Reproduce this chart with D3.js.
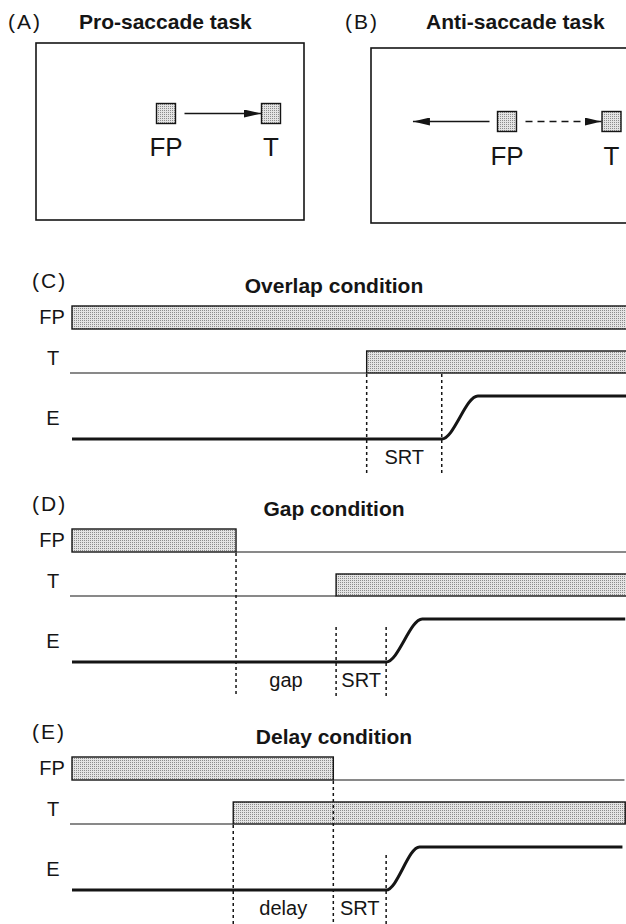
<!DOCTYPE html>
<html><head><meta charset="utf-8">
<script src="https://cdn.jsdelivr.net/npm/d3@7"></script>
<style>body{margin:0;background:#fff}svg{display:block}</style>
</head><body>
<svg id="chart" width="626" height="924"></svg>
<script>
// ---------- data ----------
// Panels A/B: spatial positions (deg, relative to fixation point)
const taskTitles = ["Pro-saccade task", "Anti-saccade task"];
const taskLetters = ["(A)", "(B)"];
const stimulusNames = ["FP", "T"];
const stimulusPositions = [0, 10];      // FP at 0, target at +10
const proSaccadeEnd = 10;               // eye goes to target
const antiSaccadeEnd = -9;              // eye goes to mirror position

// Panels C-E: timing (ms, arbitrary schematic units)
const conditions = ["Overlap condition", "Gap condition", "Delay condition"];
const conditionLetters = ["(C)", "(D)", "(E)"];
const rowNames = ["FP", "T", "E"];
const fpOffset = [null, 295, 470];       // null = FP stays on
const targetOnset = [530, 475, 290];
const targetOffset = [null, null, 995];  // null = stays on
const saccadeStart = [665, 565, 565];
const saccadeEnd = [730, 630, 625];
const traceEnd = [1030, 995, 990];
// vertical dashed markers: which event, and from which row they start
const markerEvents = [["tOn", "sac"], ["fpOff", "tOn", "sac"], ["tOn", "fpOff", "sac"]];
const markerFrom = [["T", "T"], ["FP", "E", "E"], ["T", "FP", "E"]];
// labelled intervals between events
const intervals = [
  [{label: "SRT", from: "tOn", to: "sac"}],
  [{label: "gap", from: "fpOff", to: "tOn"}, {label: "SRT", from: "tOn", to: "sac"}],
  [{label: "delay", from: "tOn", to: "fpOff"}, {label: "SRT", from: "fpOff", to: "sac"}]
];

// ---------- setup ----------
const svg = d3.select("#chart");
const FONT = "'Liberation Sans', Arial, Helvetica, sans-serif";
const INK = "#151515";
const defs = svg.append("defs");
const pat = defs.append("pattern").attr("id", "stip")
  .attr("width", 2).attr("height", 2).attr("patternUnits", "userSpaceOnUse");
pat.append("rect").attr("width", 2).attr("height", 2).attr("fill", "#e4e4e4");
pat.append("rect").attr("width", 1).attr("height", 1).attr("fill", "#8c8c8c");
defs.append("marker").attr("id", "arr")
  .attr("viewBox", "0 0 10 10").attr("refX", 10).attr("refY", 5)
  .attr("markerUnits", "userSpaceOnUse").attr("markerWidth", 17).attr("markerHeight", 8)
  .attr("preserveAspectRatio", "none").attr("orient", "auto")
  .append("path").attr("d", "M0,0 L10,5 L0,10 Z").attr("fill", INK);

function text(x, y, s, size, opts = {}) {
  return svg.append("text").attr("x", x).attr("y", y).text(s)
    .attr("font-family", FONT).attr("font-size", size)
    .attr("font-weight", opts.bold ? "bold" : "normal")
    .attr("text-anchor", opts.anchor || "start")
    .attr("letter-spacing", opts.ls || 0)
    .attr("fill", INK);
}

// ---------- panels A and B ----------
const taskLayout = [
  {letterX: 8, titleX: 79, base: 29, box: [36, 43, 268, 177], cx: [166, 271], cy: 113.5, labelY: 156},
  {letterX: 345, titleX: 426, base: 29, box: [371, 48, 270, 175], cx: [507, 611.5], cy: 121.5, labelY: 165}
];
taskTitles.forEach((title, i) => {
  const L = taskLayout[i];
  text(L.letterX, L.base, taskLetters[i], 21, {ls: 2});
  text(L.titleX, L.base, title, 21, {bold: true});
  svg.append("rect").attr("x", L.box[0]).attr("y", L.box[1])
    .attr("width", L.box[2]).attr("height", L.box[3])
    .attr("fill", "none").attr("stroke", INK).attr("stroke-width", 1.6);
  const sx = d3.scaleLinear().domain([0, 10]).range(L.cx);
  const sq = 19;
  stimulusPositions.forEach((p, j) => {
    svg.append("rect").attr("x", sx(p) - sq / 2).attr("y", L.cy - sq / 2 - 0.5)
      .attr("width", sq).attr("height", sq + 1)
      .attr("fill", "url(#stip)").attr("stroke", INK).attr("stroke-width", 1.4);
    text(sx(p), L.labelY, stimulusNames[j], 26, {anchor: "middle"});
  });
  const fpRight = sx(0) + sq / 2 + 9, tLeft = sx(10) - sq / 2 - 0.5;
  if (i === 0) {
    svg.append("line").attr("x1", fpRight).attr("x2", sx(proSaccadeEnd) - sq / 2 - 0.5)
      .attr("y1", L.cy).attr("y2", L.cy).attr("stroke", INK).attr("stroke-width", 1.5)
      .attr("marker-end", "url(#arr)");
  } else {
    svg.append("line").attr("x1", sx(0) - sq / 2 - 8).attr("x2", sx(antiSaccadeEnd))
      .attr("y1", L.cy).attr("y2", L.cy).attr("stroke", INK).attr("stroke-width", 1.5)
      .attr("marker-end", "url(#arr)");
    svg.append("line").attr("x1", fpRight).attr("x2", tLeft)
      .attr("y1", L.cy).attr("y2", L.cy).attr("stroke", INK).attr("stroke-width", 1.4)
      .attr("stroke-dasharray", "7,5").attr("marker-end", "url(#arr)");
  }
});

// ---------- panels C, D, E ----------
const x = d3.scaleLinear().domain([0, 1000]).range([72, 628]);
const panelTops = [306, 529, 757];
const line = d3.line().x(d => x(d[0])).y(d => d[1]).curve(d3.curveMonotoneX);

conditions.forEach((cond, i) => {
  const y0 = panelTops[i];
  const fpBot = y0 + 23, tTop = y0 + 45, tBot = y0 + 67, eLow = y0 + 133, eHigh = y0 + 90;
  const ev = {fpOff: fpOffset[i], tOn: targetOnset[i], sac: saccadeStart[i]};

  text(32, y0 - 18, conditionLetters[i], 21, {ls: 2});
  text(334, y0 - 13, cond, 21, {bold: true, anchor: "middle"});

  // row labels
  const rowY = {FP: y0 + 18, T: y0 + 59, E: y0 + 119};
  rowNames.forEach(r => text(r === "FP" ? 52 : 53, rowY[r], r, 20, {anchor: "middle"}));

  // FP row
  const fpEnd = fpOffset[i] === null ? 1030 : fpOffset[i];
  svg.append("rect").attr("x", x(0)).attr("y", y0).attr("width", x(fpEnd) - x(0)).attr("height", 23)
    .attr("fill", "url(#stip)").attr("stroke", INK).attr("stroke-width", 1.4);
  if (fpOffset[i] !== null) {
    svg.append("line").attr("x1", x(fpOffset[i])).attr("x2", x(traceEnd[i]) + 2)
      .attr("y1", fpBot).attr("y2", fpBot).attr("stroke", INK).attr("stroke-width", 1.2);
  }

  // T row
  svg.append("line").attr("x1", x(0) - 2).attr("x2", x(targetOnset[i]))
    .attr("y1", tBot).attr("y2", tBot).attr("stroke", INK).attr("stroke-width", 1.2);
  const tEnd = targetOffset[i] === null ? 1030 : targetOffset[i];
  svg.append("rect").attr("x", x(targetOnset[i])).attr("y", tTop)
    .attr("width", x(tEnd) - x(targetOnset[i])).attr("height", tBot - tTop)
    .attr("fill", "url(#stip)").attr("stroke", INK).attr("stroke-width", 1.4);

  // Eye trace
  const pts = [[0, eLow], [saccadeStart[i], eLow], [saccadeEnd[i], eHigh], [traceEnd[i], eHigh]];
  svg.append("path").attr("d", line(pts)).attr("fill", "none")
    .attr("stroke", INK).attr("stroke-width", 3);

  // dashed markers
  const fromY = {FP: fpBot + 1, T: tBot + 1, E: eHigh + 8};
  markerEvents[i].forEach((e, k) => {
    svg.append("line").attr("x1", x(ev[e])).attr("x2", x(ev[e]))
      .attr("y1", fromY[markerFrom[i][k]]).attr("y2", y0 + 168)
      .attr("stroke", INK).attr("stroke-width", 1.5).attr("stroke-dasharray", "3,3");
  });

  // interval labels
  intervals[i].forEach(iv => {
    text((x(ev[iv.from]) + x(ev[iv.to])) / 2, y0 + 158, iv.label, 20, {anchor: "middle"});
  });
});
</script>
</body></html>
